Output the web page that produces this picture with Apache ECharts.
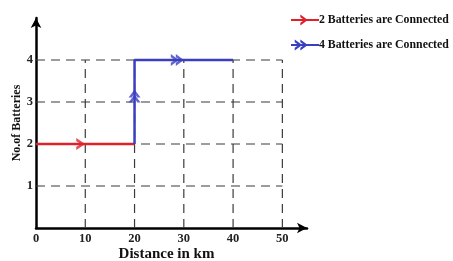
<!DOCTYPE html>
<html><head><meta charset="utf-8">
<script src="https://cdn.jsdelivr.net/npm/echarts@6/dist/echarts.min.js"></script>
<style>html,body{margin:0;padding:0;background:#fff}#c{width:453px;height:261px}</style>
</head><body><div id="c"></div>
<script>
const xTicks = [0, 10, 20, 30, 40, 50];
const yTicks = [1, 2, 3, 4];
const seriesNames = ['2 Batteries are Connected', '4 Batteries are Connected'];
const redX = [0, 20];
const redY = [2, 2];
const blueX = [20, 20, 40];
const blueY = [2, 4, 4];
const redArrowX = [10], redArrowY = [2];
const blueUpArrowX = [20], blueUpArrowY = [3.3];
const blueRightArrowX = [30], blueRightArrowY = [4];

const RED = '#e0202a', BLUE = '#3a3fc0';
const chevron = 'path://M0,0 L8,6 L0,12 L0,8.8 L4.2,6 L0,3.2 Z';
const dbl = 'path://M0,0 L8,6 L0,12 L0,8.8 L4.2,6 L0,3.2 Z M5,0 L13,6 L5,12 L5,8.8 L9.2,6 L5,3.2 Z';
const legRed = 'path://M0,5 L30,5 L30,7 L0,7 Z M10,0 L18,6 L10,12 L10,9 L14.2,6 L10,3 Z';
const legBlue = 'path://M0,5 L30,5 L30,7 L0,7 Z M4,0 L12,6 L4,12 L4,9 L8.2,6 L4,3 Z M10,0 L18,6 L10,12 L10,9 L14.2,6 L10,3 Z';

const xMax = xTicks[xTicks.length - 1], yMax = yTicks[yTicks.length - 1];
const gridSeries = [];
yTicks.forEach(v => gridSeries.push({type:'line', silent:true, symbol:'none', z:1,
  lineStyle:{color:'#3a3a3a', width:1.2, type:[9,6]}, data:[[0, v], [xMax, v]]}));
xTicks.slice(1).forEach(v => gridSeries.push({type:'line', silent:true, symbol:'none', z:1,
  lineStyle:{color:'#3a3a3a', width:1.2, type:[9,6]}, data:[[v, 0], [v, yMax]]}));

const chart = echarts.init(document.getElementById('c'));
const font = 'Liberation Serif';
chart.setOption({
  animation: false,
  grid: {left: 36, right: 146, top: 18, bottom: 33, outerBoundsMode: 'none', containLabel: false},
  legend: {
    orient: 'vertical', left: 286, top: 9, itemGap: 13, itemWidth: 28, itemHeight: 12,
    data: [{name: seriesNames[0], icon: legRed}, {name: seriesNames[1], icon: legBlue}],
    textStyle: {fontFamily: font, fontWeight: 'bold', fontSize: 11.8, color: '#111', padding: [0,0,0,-5]}
  },
  xAxis: {
    type: 'value', min: 0, max: 55, interval: 5,
    axisLine: {show: true, lineStyle: {color: '#000', width: 2.5}, symbol: ['none', 'arrow'], symbolSize: [8, 10]},
    axisTick: {show: false}, splitLine: {show: false},
    axisLabel: {fontFamily: font, fontWeight: 'bold', fontSize: 12.5, color: '#222', margin: 4,
      formatter: v => xTicks.includes(v) ? String(v) : ''},
    name: 'Distance in km', nameLocation: 'middle', nameGap: 19, nameMoveOverlap: false,
    nameTextStyle: {fontFamily: font, fontWeight: 'bold', fontSize: 15, color: '#111', padding: [0, 10, 0, 0]}
  },
  yAxis: {
    type: 'value', min: 0, max: 5, interval: 1,
    axisLine: {show: true, lineStyle: {color: '#000', width: 2.5}, symbol: ['none', 'arrow'], symbolSize: [8, 10]},
    axisTick: {show: false}, splitLine: {show: false},
    axisLabel: {fontFamily: font, fontWeight: 'bold', fontSize: 12.5, color: '#222', margin: 3,
      formatter: v => yTicks.includes(v) ? String(v) : ''},
    name: 'No.of Batteries', nameLocation: 'middle', nameGap: 13, nameRotate: 90, nameMoveOverlap: false,
    nameTextStyle: {fontFamily: font, fontWeight: 'bold', fontSize: 12, color: '#111', padding: [0, 0, 0, 0]}
  },
  series: gridSeries.concat([
    {name: seriesNames[0], type: 'line', symbol: 'none', z: 3, color: RED,
     lineStyle: {color: RED, width: 2.5}, data: redX.map((x, i) => [x, redY[i]])},
    {name: seriesNames[1], type: 'line', symbol: 'none', z: 3, color: BLUE,
     lineStyle: {color: BLUE, width: 2.5}, data: blueX.map((x, i) => [x, blueY[i]])},
    {type: 'scatter', silent: true, z: 4, symbol: chevron, symbolSize: [9, 12], symbolOffset: [-4.5, 0],
     itemStyle: {color: RED}, data: redArrowX.map((x, i) => [x, redArrowY[i]])},
    {type: 'scatter', silent: true, z: 4, symbol: dbl, symbolSize: [13, 12], symbolRotate: 90, symbolOffset: [0, 6.5],
     itemStyle: {color: BLUE}, data: blueUpArrowX.map((x, i) => [x, blueUpArrowY[i]])},
    {type: 'scatter', silent: true, z: 4, symbol: dbl, symbolSize: [13, 12], symbolOffset: [-6.5, 0],
     itemStyle: {color: BLUE}, data: blueRightArrowX.map((x, i) => [x, blueRightArrowY[i]])}
  ])
});
</script></body></html>
